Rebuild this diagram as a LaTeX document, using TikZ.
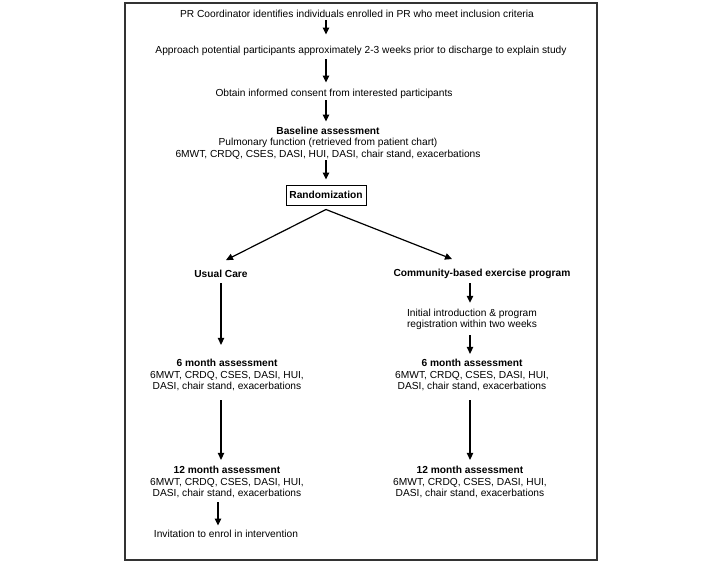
\documentclass[tikz,border=0pt]{standalone}
\usepackage{fontspec}
\setmainfont{Liberation Sans}
\usetikzlibrary{arrows.meta}
\tikzset{
  flowtext/.style={font=\fontsize{10.2}{11.6}\selectfont, align=center, inner sep=0pt},
  randbox/.style={draw, line width=1pt, minimum width=80pt, minimum height=20pt, inner sep=2pt, font=\fontsize{10.2}{11.6}\selectfont\bfseries},
  arr/.style={-{Triangle[length=7pt,width=6.5pt]}, line width=1.2pt},
}
\def\measures{6MWT, CRDQ, CSES, DASI, HUI,\\ DASI, chair stand, exacerbations}

\begin{document}
\begin{tikzpicture}[x=1pt,y=-1pt]
	\useasboundingbox (0,0) rectangle (728,571);
	\draw[line width=1.3pt, black!80] (125,3) rectangle (597,560);
	% main trunk
	\node[flowtext] (pr) at (357,14) {PR Coordinator identifies individuals enrolled in PR who meet inclusion criteria};
	\node[flowtext] (appr) at (361,51) {Approach potential participants approximately 2-3 weeks prior to discharge to explain study};
	\node[flowtext] (consent) at (334,94) {Obtain informed consent from interested participants};
	\node[flowtext] (base) at (328,143) {\textbf{Baseline assessment}\\ Pulmonary function (retrieved from patient chart)\\ 6MWT, CRDQ, CSES, DASI, HUI, DASI, chair stand, exacerbations};
	\node[randbox] (rand) at (326,195) {Randomization};
	% usual care arm
	\node[flowtext] (usual) at (221,274) {\textbf{Usual Care}};
	\node[flowtext] (sixL) at (227,375) {\textbf{6 month assessment}\\ \measures};
	\node[flowtext] (twelveL) at (227,482) {\textbf{12 month assessment}\\ \measures};
	\node[flowtext] (invite) at (226,534) {Invitation to enrol in intervention};
	% exercise arm
	\node[flowtext] (comm) at (482,274) {\textbf{Community-based exercise program}};
	\node[flowtext] (intro) at (472,319.5) {Initial introduction \& program\\ registration within two weeks};
	\node[flowtext] (sixR) at (472,375) {\textbf{6 month assessment}\\ \measures};
	\node[flowtext] (twelveR) at (470,482) {\textbf{12 month assessment}\\ \measures};

	\draw[arr, shorten <=2.5pt, shorten >=11.5pt] (pr.south -| rand) -- (appr.north -| rand);
	\draw[arr, shorten <=3.5pt, shorten >=6.5pt] (appr.south -| rand) -- (consent.north -| rand);
	\draw[arr, shorten <=1.5pt, shorten >=5pt] (consent.south -| rand) -- (base.north -| rand);
	\draw[arr, shorten <=1pt, shorten >=5pt] (base.south -| rand) -- (rand.north);
	\draw[arr] ([yshift=-4pt]rand.south) -- ([xshift=5pt,yshift=10pt]usual.north);
	\draw[arr] ([yshift=-4pt]rand.south) -- ([xshift=-30pt,yshift=10pt]comm.north);
	\draw[arr, shorten <=5.5pt, shorten >=14pt] (usual.south) -- (sixL.north -| usual);
	\draw[arr, shorten <=9pt, shorten >=6pt] (sixL.south -| usual) -- (twelveL.north -| usual);
	\draw[arr, shorten <=4pt, shorten >=4.5pt] ([xshift=-9pt]twelveL.south) -- ([xshift=-9pt]twelveL.south |- invite.north);
	\draw[arr, shorten <=4.5pt, shorten >=6pt] (comm.south -| twelveR) -- (intro.north -| twelveR);
	\draw[arr, shorten <=5pt, shorten >=5pt] (intro.south -| twelveR) -- (sixR.north -| twelveR);
	\draw[arr, shorten <=9pt, shorten >=6pt] (sixR.south -| twelveR) -- (twelveR.north);
\end{tikzpicture}
\end{document}
